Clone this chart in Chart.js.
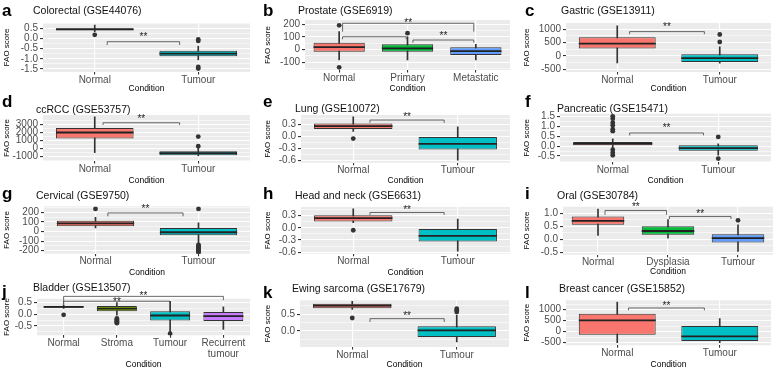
<!DOCTYPE html>
<html><head><meta charset="utf-8">
<script src="https://cdn.jsdelivr.net/npm/chart.js@4.4.1/dist/chart.umd.min.js"></script>
<style>
html,body{margin:0;padding:0;background:#fff;}
body{width:778px;height:369px;position:relative;overflow:hidden;}
canvas{position:absolute;}
</style></head><body>
<script>
// ---------------- DATA ----------------
const panelLetters = ['a','b','c','d','e','f','g','h','i','j','k','l'];
const panelTitles = ['Colorectal (GSE44076)','Prostate (GSE6919)','Gastric (GSE13911)',
  'ccRCC (GSE53757)','Lung (GSE10072)','Pancreatic (GSE15471)',
  'Cervical (GSE9750)','Head and neck (GSE6631)','Oral (GSE30784)',
  'Bladder (GSE13507)','Ewing sarcoma (GSE17679)','Breast cancer (GSE15852)'];
const categories = [
  ['Normal','Tumour'], ['Normal','Primary','Metastatic'], ['Normal','Tumour'],
  ['Normal','Tumour'], ['Normal','Tumour'], ['Normal','Tumour'],
  ['Normal','Tumour'], ['Normal','Tumour'], ['Normal','Dysplasia','Tumour'],
  ['Normal','Stroma','Tumour','Recurrent\ntumour'], ['Normal','Tumour'], ['Normal','Tumour']];
const whiskerLow = [
  [0.33,-1.05], [-82,-82,-82], [-262,-270],
  [-550,-950], [0.12,-0.6], [-0.13,-0.46],
  [37,-130], [0.13,-0.58], [0.14,0.04,-0.47],
  [0.25,-0.04,-0.76,-0.65], [0.65,-0.33], [-500,-500]];
const quartile1 = [
  [0.4,-0.88], [-16,-16,-42], [280,-223],
  [1200,-875], [0.175,-0.33], [0.04,-0.24],
  [54,-40], [0.16,-0.34], [0.55,0.17,-0.13],
  [0.28,0.13,-0.26,-0.29], [0.68,-0.18], [-136,-423]];
const medians = [
  [0.45,-0.75], [20,10,-12], [460,-80],
  [1950,-600], [0.25,-0.19], [0.12,-0.1],
  [85,-8], [0.24,-0.2], [0.7,0.31,0.04],
  [0.32,0.24,-0.05,-0.08], [0.76,0.02], [518,-210]];
const quartile3 = [
  [0.5,-0.6], [55,42,18], [698,60],
  [2500,-375], [0.315,-0.02], [0.21,0.04],
  [112,36], [0.31,-0.03], [0.87,0.49,0.19],
  [0.36,0.36,0.13,0.1], [0.82,0.14], [818,259]];
const whiskerHigh = [
  [0.66,-0.38], [142,102,42], [1125,343],
  [3900,150], [0.48,0.23], [0.37,0.12],
  [148,89], [0.47,0.22], [1.15,0.75,0.55],
  [0.4,0.5,0.56,0.32], [0.89,0.47], [1350,590]];
const outliers = [
  [[0.18],[-0.05,-0.12,-1.4,-1.48]],
  [[192,-140],[130],[]],
  [[],[800,520]],
  [[],[1450,250]],
  [[-0.06],[]],
  [[1.5,1.38,1.18,1.05,0.85,0.75,-0.18,-0.33,-0.46],[0.46,-0.63]],
  [[235],[235,-140,-150,-160,-170,-180,-190,-200,-210,-220]],
  [[-0.06],[]],
  [[],[],[0.72]],
  [[-0.02],[-0.18,-0.22,-0.26,-0.3,-0.34,-0.38],[-0.83],[]],
  [[0.39],[0.57,0.62,0.67]],
  [[],[]]];
const yTickLabels = [
  ['0.5','0.0','-0.5','-1.0','-1.5'], ['200','100','0','-100'], ['1000','500','0','-500'],
  ['3000','2000','1000','0','-1000'], ['0.3','0.0','-0.3','-0.6'], ['1.5','1.0','0.5','0.0','-0.5'],
  ['200','100','0','-100','-200'], ['0.3','0.0','-0.3','-0.6'], ['1.0','0.5','0.0','-0.5'],
  ['0.5','0.0','-0.5'], ['0.5','0.0'], ['1000','500','0','-500']];
const yLimits = [
  [-1.65,0.76], [-161,234], [-600,1230],
  [-1590,4125], [-0.66,0.525], [-0.8,1.63],
  [-231,262], [-0.64,0.516], [-0.6,1.26],
  [-0.9,0.67], [-0.48,0.92], [-620,1427]];
// significance brackets: [fromIndex, toIndex, lineY, leftTipY, rightTipY, labelY]
const brackets = [
  [[0.12,0.82,-0.16,-0.32,-0.32,0.17]],
  [[0.05,1.97,208,142,142,228],[0.05,0.98,102,82,82,null],[1.08,1.97,76,55,55,129]],
  [[0.12,0.85,909,811,811,1160]],
  [[0.08,0.82,3160,2880,2880,3995]],
  [[0.16,0.87,0.4,0.33,0.33,0.54]],
  [[0.16,0.86,0.66,0.54,0.54,1.05]],
  [[0.12,0.85,193,158,158,255]],
  [[0.16,0.87,0.38,0.32,0.32,0.5]],
  [[0.1,0.98,1.1,0.93,0.93,1.32],[1.02,1.9,0.87,0.77,0.77,1.06]],
  [[0,3,0.77,0.4,0.6,0.9],[0,2,0.56,0.46,0.46,0.64]],
  [[0.17,0.88,0.37,0.27,0.27,0.52]],
  [[0.11,0.85,1077,970,970,1270]]];
const sigLabel = '**';
const xAxisTitle = 'Condition';
const yAxisTitle = 'FAO score';

// ---------------- LAYOUT / STYLE ----------------
const FONT = "'Liberation Sans', Arial, sans-serif";
const palettes = {2:['#F8766D','#00BFC4'],3:['#F8766D','#00BA38','#619CFF'],4:['#F8766D','#7CAE00','#00BFC4','#C77CFF']};
const colLeft = [0,259,518], colWidth = [259,259,260];
const rowTop = [0,92,183,272], rowHeight = [95,94,96,99];
const letterX = [2,263,525];
const yTitleX = [6.3,268,527];
// plot rectangles in page coordinates [L,T,R,B], x-title centre, letter baseline, title x/y
const plotRects = [
  [43,23,250,72],[305,20,510,70],[566,23,771,72],
  [43,115,250,161],[301,115,510,162.7],[560,113.7,771,162],
  [44,206.3,250,253.7],[301,207,510,253.7],[563,206.3,773,254.7],
  [37,298.7,250,335.3],[300,300.3,509,347],[566,300.3,771,345.3]];
const condY = [88.3,88.3,88.3,180.3,180.3,180.3,272.3,272.3,271.3,364.7,364.7,364.7];
const letterBase = [16,16,16,107,107,107,199,199,199,297,298,298];
const titlePos = [[33,11.5],[298,11.5],[561,11.5],[36,110],[295,109.5],[557,109],
  [36,196.3],[295,196.3],[557,196.3],[33,288],[292,289.3],[559,289.3]];

const bgPlugin = {id:'panelBg', beforeDraw(chart){
  const a = chart.chartArea, c = chart.ctx;
  c.save(); c.fillStyle = '#EBEBEB'; c.fillRect(a.left,a.top,a.right-a.left,a.bottom-a.top); c.restore();
}};

function makePanel(p){
  const col = p % 3, row = Math.floor(p/3);
  const cL = colLeft[col], cT = rowTop[row], cW = colWidth[col], cH = rowHeight[row];
  const [L,T,R,B] = plotRects[p];
  const cats = categories[p];
  const n = cats.length;
  const canvas = document.createElement('canvas');
  canvas.width = cW; canvas.height = cH;
  canvas.style.left = cL+'px'; canvas.style.top = cT+'px';
  canvas.style.width = cW+'px'; canvas.style.height = cH+'px';
  document.body.appendChild(canvas);

  const majors = yTickLabels[p].map(Number);
  const sorted = [...majors].sort((a,b)=>a-b);
  const step = sorted[1]-sorted[0];
  const [ymin,ymax] = yLimits[p];
  const gridVals = sorted.map(v=>v);
  for (let k=0;k<sorted.length-1;k++) gridVals.push((sorted[k]+sorted[k+1])/2);
  if (sorted[0]-step/2 >= ymin) gridVals.push(sorted[0]-step/2);
  if (sorted[sorted.length-1]+step/2 <= ymax) gridVals.push(sorted[sorted.length-1]+step/2);
  gridVals.sort((a,b)=>a-b);
  const isMajor = v => majors.some(m=>Math.abs(m-v) < step*1e-3);
  const labelFor = v => { const i = majors.findIndex(m=>Math.abs(m-v) < step*1e-3); return i<0 ? '' : yTickLabels[p][i]; };

  const outPts = [];
  outliers[p].forEach((arr,i)=>arr.forEach(v=>outPts.push({x:cats[i], y:v})));

  const xTitleLH = 8.5*1.2;
  const xTitlePad = cH - (condY[p]-cT) - xTitleLH/2;
  const yTitlePad = (yTitleX[col]-cL) - 8*1.2/2;

  const annot = {id:'annot'+p, afterDraw(chart){
    const c = chart.ctx, xs = chart.scales.x, ys = chart.scales.y;
    c.save();
    // brackets
    c.strokeStyle = '#444'; c.lineWidth = 0.8;
    brackets[p].forEach(b=>{
      const x1 = xs.getPixelForValue(b[0]), x2 = xs.getPixelForValue(b[1]);
      const y = ys.getPixelForValue(b[2]);
      c.beginPath();
      c.moveTo(x1, ys.getPixelForValue(b[3])); c.lineTo(x1,y); c.lineTo(x2,y); c.lineTo(x2, ys.getPixelForValue(b[4]));
      c.stroke();
      if (b[5] !== null) {
        c.fillStyle = '#222'; c.font = '10px '+FONT; c.textAlign='center'; c.textBaseline='alphabetic';
        c.fillText(sigLabel, (x1+x2)/2, ys.getPixelForValue(b[5])+5.5);
      }
    });
    // letter and title
    c.fillStyle = '#000'; c.textAlign='left';
    c.font = 'bold 17px '+FONT; c.textBaseline='alphabetic';
    c.fillText(panelLetters[p], letterX[col]-cL, letterBase[p]-cT);
    c.font = '10.5px '+FONT; c.textBaseline='middle'; c.fillStyle='#111';
    c.fillText(panelTitles[p], titlePos[p][0]-cL, titlePos[p][1]-cT);
    c.restore();
  }};

  new Chart(canvas, {
    type:'bar',
    data:{
      labels: cats,
      datasets:[
        {type:'bar', data: cats.map((c,i)=>[whiskerLow[p][i], whiskerHigh[p][i]]), backgroundColor:'#333',
         barThickness:1, grouped:false, order:3},
        {type:'bar', data: cats.map((c,i)=>[quartile1[p][i], quartile3[p][i]]), backgroundColor: palettes[n],
         borderColor:'#333', borderWidth:1, borderSkipped:false, barPercentage:0.75, categoryPercentage:1, grouped:false, order:2},
        {type:'line', data: medians[p], showLine:false, pointStyle:'line', borderColor:'#222', borderWidth:1.8,
         pointRadius: ctx => { const xs = ctx.chart.scales.x; return xs ? (xs.right-xs.left)/n*0.75/2 : 10; },
         pointHoverRadius: 0, order:1},
        {type:'line', data: outPts, showLine:false, pointStyle:'circle', pointRadius:2.4, pointBackgroundColor:'#333',
         pointBorderWidth:0, pointHoverRadius:0, order:0}
      ]
    },
    options:{
      responsive:false, animation:false, devicePixelRatio:1,
      layout:{padding:{left:0, top:T-cT, right:(cL+cW)-R, bottom:0}},
      plugins:{legend:{display:false}, tooltip:{enabled:false}, title:{display:false}},
      scales:{
        x:{
          offset:true,
          grid:{color:'#FFFFFF', lineWidth:1.1, offset:false, drawTicks:true, tickLength:2.5, tickColor:'#333'},
          border:{display:false},
          ticks:{color:'#4D4D4D', font:{family:FONT, size:10, lineHeight:1.1}, padding:0, maxRotation:0, autoSkip:false,
                 callback:function(v){ return this.getLabelForValue(v).split('\n'); }},
          title:{display:true, text:xAxisTitle, color:'#000', font:{family:FONT, size:8.5, lineHeight:1.2}, padding:{top:0,bottom:xTitlePad}},
          afterFit: s => { s.height = cH - (B - cT); }
        },
        y:{
          min:ymin, max:ymax,
          afterBuildTicks: s => { s.ticks = gridVals.map(v=>({value:v})); },
          grid:{color:'#FFFFFF', lineWidth: ctx => (ctx.tick && isMajor(ctx.tick.value)) ? 1.1 : 0.55,
                tickColor: ctx => (ctx.tick && isMajor(ctx.tick.value)) ? '#333' : 'rgba(0,0,0,0)', tickLength:3},
          border:{display:false},
          ticks:{color:'#4D4D4D', font:{family:FONT, size:10}, padding:2, autoSkip:false, callback: v => labelFor(v)},
          title:{display:true, text:yAxisTitle, color:'#000', font:{family:FONT, size:8, lineHeight:1.2}, padding:{top:yTitlePad,bottom:0}},
          afterFit: s => { s.width = L - cL; }
        }
      }
    },
    plugins:[bgPlugin, annot]
  });
}
for (let p=0;p<12;p++) makePanel(p);
</script>
</body></html>
